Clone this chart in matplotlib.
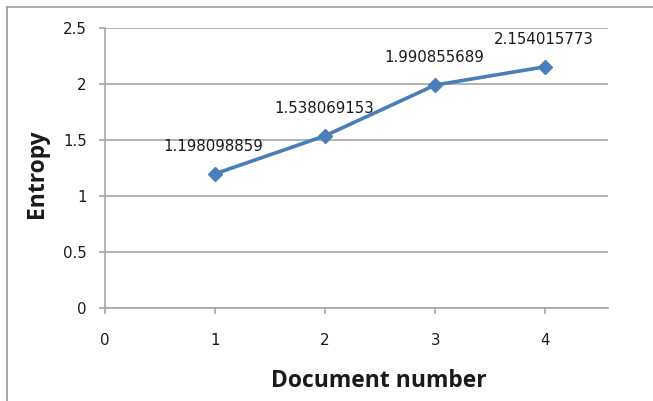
import matplotlib
matplotlib.use("Agg")
import matplotlib.pyplot as plt
from matplotlib.lines import Line2D

doc_numbers = [1, 2, 3, 4]
entropy = [1.198098859, 1.538069153, 1.990855689, 2.154015773]
x_ticks = [0, 1, 2, 3, 4]
y_ticks = [0, 0.5, 1, 1.5, 2, 2.5]
y_tick_labels = ["0", "0.5", "1", "1.5", "2", "2.5"]

plt.rcParams['font.family'] = ['DejaVu Sans']

W, H = 653, 401
fig = plt.figure(figsize=(W / 100, H / 100), dpi=100)
ax = fig.add_axes([105 / W, 1 - 308 / H, (608 - 105) / W, (308 - 28) / H])

grid_c = "#a6a6a6"
txt_c = "#1a1a1a"
ax.set_xlim(0, 4.57)
ax.set_ylim(0, 2.5)
ax.set_yticks(y_ticks)
ax.set_yticklabels(y_tick_labels)
ax.set_xticks(x_ticks)
ax.yaxis.grid(True, color=grid_c, linewidth=1.2)
ax.set_axisbelow(True)
for s in ["top", "right"]:
    ax.spines[s].set_visible(False)
for s in ["left", "bottom"]:
    ax.spines[s].set_color(grid_c)
    ax.spines[s].set_linewidth(1.2)
ax.tick_params(axis="both", colors=grid_c, labelcolor=txt_c, labelsize=10.8,
               length=4, width=1.2)
ax.tick_params(axis="x", pad=14)
ax.tick_params(axis="y", pad=9)

ax.plot(doc_numbers, entropy, color="#4A7EBB", linewidth=2.6, marker="D",
        markersize=7, clip_on=False, zorder=3)
for x, y in zip(doc_numbers, entropy):
    ax.annotate(f"{y:.9f}", (x, y), xytext=(-1, 19.5), textcoords="offset points",
                ha="center", va="center", fontsize=10.8, color=txt_c)

fig.text(379 / W, 1 - 381 / H, "Document number", fontsize=16.5, fontweight="bold",
         family=["Open Sans", "DejaVu Sans"], ha="center", va="center", color=txt_c)
fig.text(37 / W, 1 - 174 / H, "Entropy", fontsize=16.5, fontweight="bold",
         family=["Open Sans", "DejaVu Sans"], ha="center", va="center",
         rotation=90, color=txt_c)

# outer chart border (top and left visible)
fig.add_artist(Line2D([7 / W, 7 / W], [0, 1 - 7 / H], transform=fig.transFigure,
                      color="#9a9a9a", linewidth=1.2))
fig.add_artist(Line2D([7 / W, 1], [1 - 7 / H, 1 - 7 / H], transform=fig.transFigure,
                      color="#9a9a9a", linewidth=1.2))

fig.savefig("out.png", dpi=100)
